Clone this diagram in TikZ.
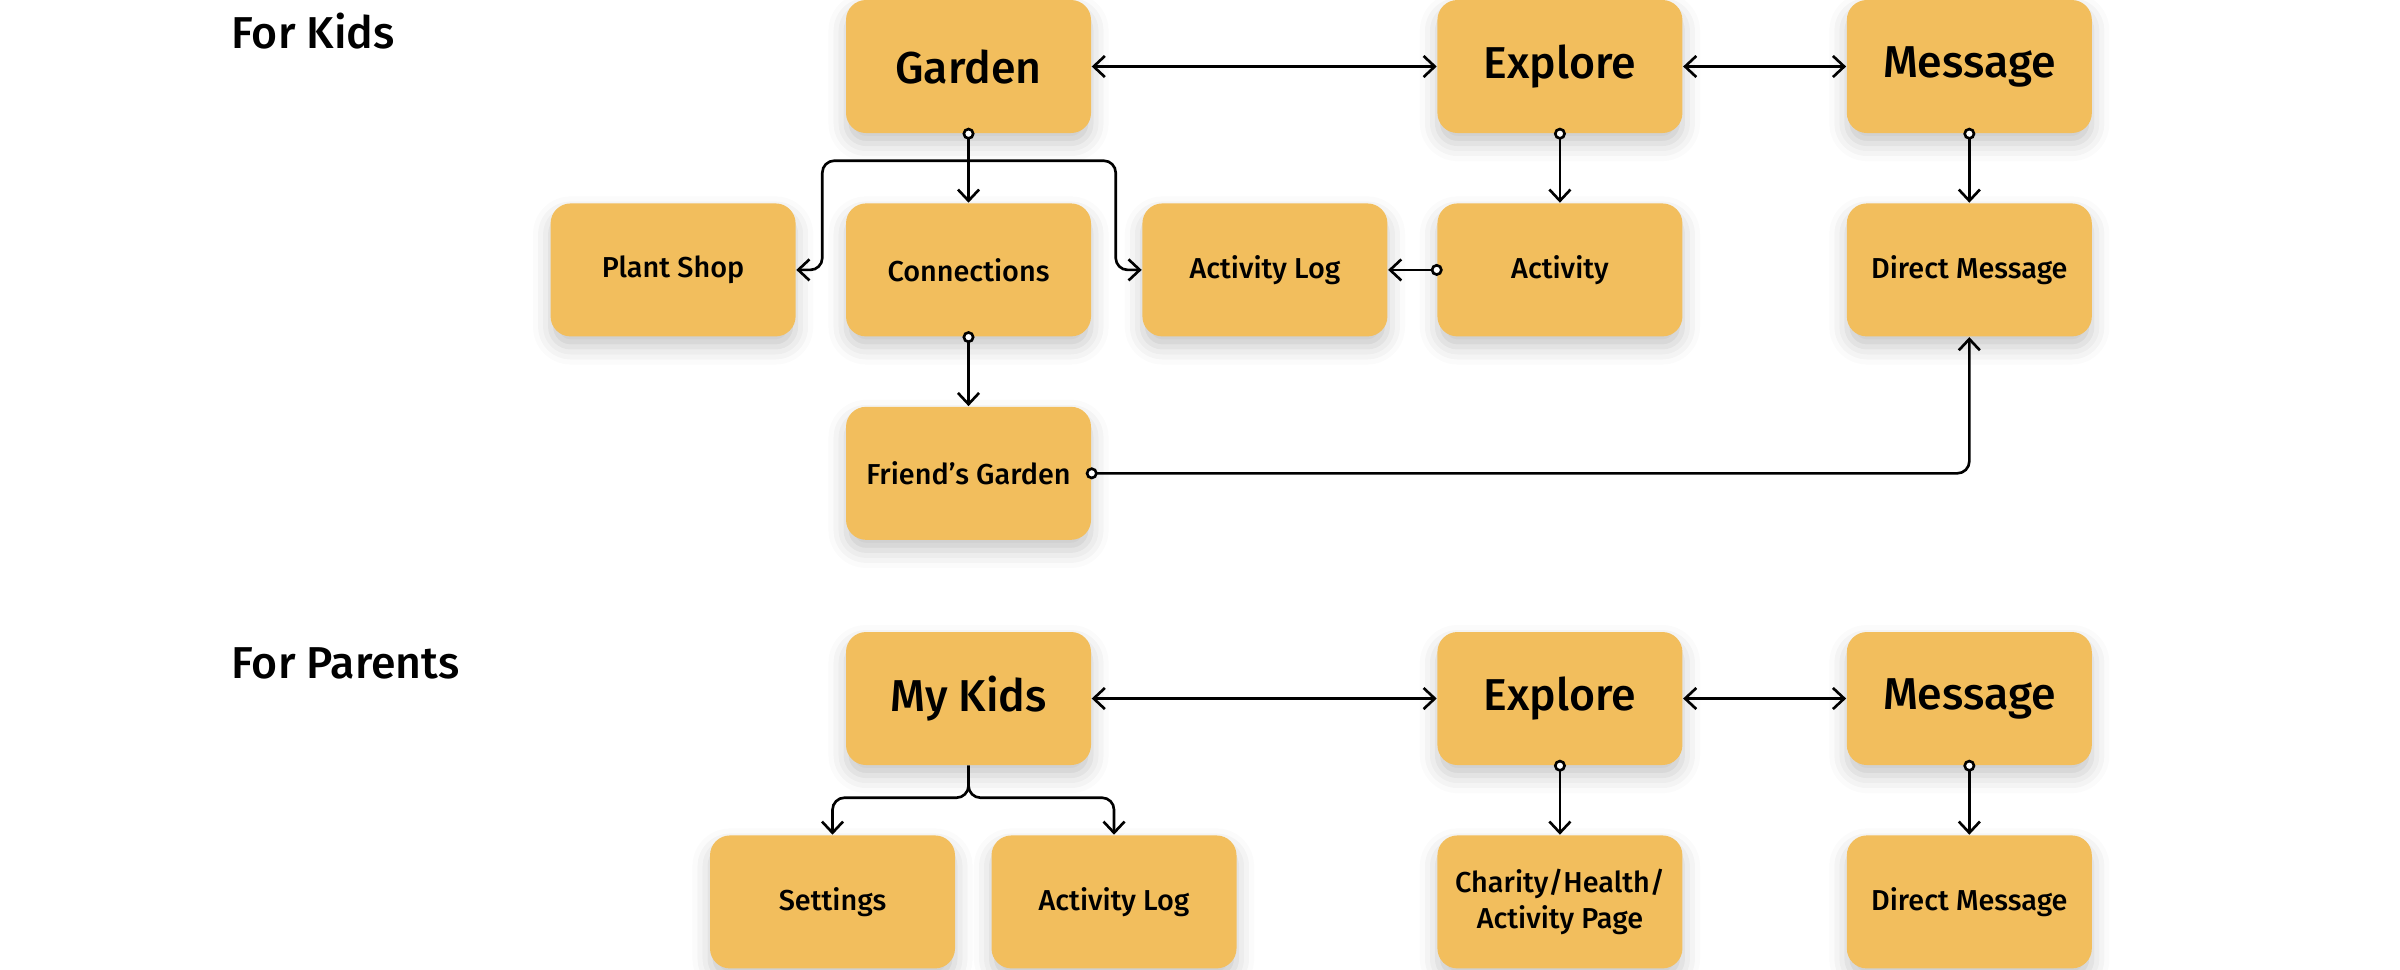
\documentclass[tikz,border=0pt]{standalone}
\usepackage{fontspec}
\setmainfont{Fira Sans Medium}
\usepackage{tikz}
\usetikzlibrary{arrows.meta, positioning, shadows.blur}
\definecolor{boxfill}{HTML}{F2BE5D}

\begin{document}
\begin{tikzpicture}[
  node distance = 0.69cm and 0.5cm,
  box/.style    = {fill=boxfill, rounded corners=0.2cm, minimum width=2.45cm,
                   minimum height=1.33cm, align=center, inner sep=2pt,
                   blur shadow={shadow xshift=0pt, shadow yshift=-3pt,
                                shadow blur radius=5pt, shadow opacity=22}},
  mainbox/.style = {box, font=\fontsize{12.7}{15}\selectfont},
  subbox/.style  = {box, font=\fontsize{8.2}{10}\selectfont},
  title/.style   = {anchor=west, inner sep=0pt, font=\fontsize{12.7}{15}\selectfont},
  arr/.style    = {-{Straight Barb[length=3.2pt, width=6pt]}, line width=0.75pt,
                   rounded corners=0.12cm},
  darr/.style   = {{Straight Barb[length=3.2pt, width=6pt]}-{Straight Barb[length=3.2pt, width=6pt]},
                   line width=0.75pt},
  carr/.style   = {{Circle[length=3.4pt, fill=white]}-{Straight Barb[length=3.2pt, width=6pt]},
                   line width=0.75pt, shorten <=-1.7pt, rounded corners=0.12cm}
]
  \useasboundingbox (0,0) rectangle (24,-9.69);

  %% For Kids
  \node[title] (kidstitle) at (2.31,-0.31) {For Kids};
  \node[mainbox] (garden) at (9.685,-0.665) {Garden};
  \node[mainbox, right=3.45cm of garden]  (explore) {Explore};
  \node[mainbox, right=1.63cm of explore] (message) {Message};
  \node[subbox, below=of garden]          (conn)    {Connections};
  \node[subbox, left=0.49cm of conn]      (plant)   {Plant Shop};
  \node[subbox, right=0.5cm of conn]      (alog)    {Activity Log};
  \node[subbox, below=of explore]         (activity){Activity};
  \node[subbox, below=of message]         (dmsg)    {Direct Message};
  \node[subbox, below=of conn]            (fgarden) {Friend’s Garden};

  \draw[darr] (garden)  -- (explore);
  \draw[darr] (explore) -- (message);
  \draw[carr] (garden.south)  -- (conn.north);
  \coordinate (gfork) at ([yshift=-0.27cm]garden.south);
  \draw[arr]  (gfork) -| ([xshift=0.26cm]plant.east) -- (plant.east);
  \draw[arr]  (gfork) -| ([xshift=-0.26cm]alog.west) -- (alog.west);
  \draw[carr] (activity.west) -- (alog.east);
  \draw[carr] (explore.south) -- (activity.north);
  \draw[carr] (message.south) -- (dmsg.north);
  \draw[carr] (conn.south)    -- (fgarden.north);
  \draw[carr] (fgarden.east)  -| (dmsg.south);

  %% For Parents
  \node[title] (parenttitle) at (2.31,-6.63) {For Parents};
  \node[mainbox] (mykids) at (9.685,-6.985) {My Kids};
  \node[mainbox, right=3.45cm of mykids]    (pexplore) {Explore};
  \node[mainbox, right=1.63cm of pexplore]  (pmessage) {Message};
  \node[subbox, below=of mykids, xshift=-1.36cm] (settings) {Settings};
  \node[subbox, below=of mykids, xshift=1.455cm] (plog)     {Activity Log};
  \node[subbox, below=of pexplore]          (charity)  {Charity/Health/\\Activity Page};
  \node[subbox, below=of pmessage]          (pdmsg)    {Direct Message};

  \draw[darr] (mykids)   -- (pexplore);
  \draw[darr] (pexplore) -- (pmessage);
  \draw[arr]  (mykids.south) -- ++(0,-0.32) -| (settings.north);
  \draw[arr]  (mykids.south) -- ++(0,-0.32) -| (plog.north);
  \draw[carr] (pexplore.south) -- (charity.north);
  \draw[carr] (pmessage.south) -- (pdmsg.north);
\end{tikzpicture}
\end{document}
